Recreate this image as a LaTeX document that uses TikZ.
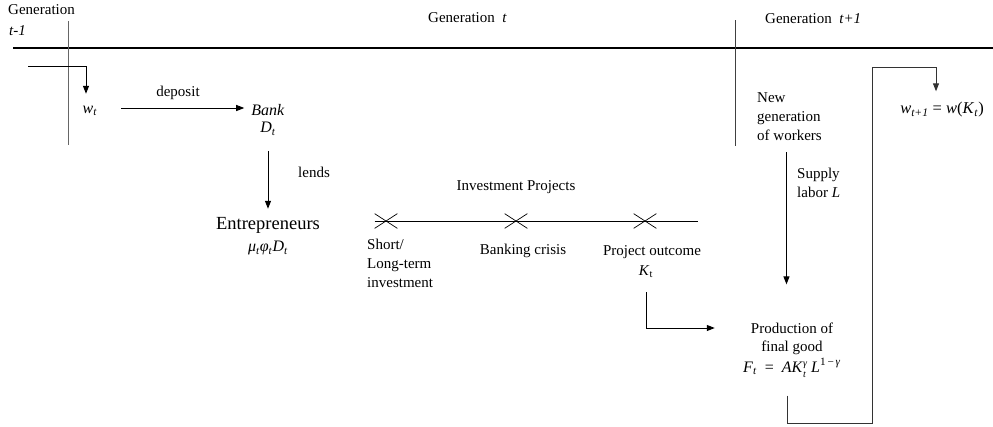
\documentclass[tikz,border=0pt]{standalone}
\usepackage{fontspec}
\setmainfont{Liberation Serif}
\usetikzlibrary{arrows.meta,shapes.misc}
\newcommand\isub[1]{\textsubscript{\textit{#1}}}
\newcommand\isup[1]{\textsuperscript{\textit{#1}}}
\begin{document}
\begin{tikzpicture}[x=1pt,y=-1pt,
  txt/.style={inner sep=0pt, font=\fontsize{15}{19}\selectfont},
  arr/.style={-{Triangle[length=8pt,width=6pt]}, line width=1pt},
  divider/.style={draw=black!60, line width=1pt},
  xmark/.style={cross out, draw, minimum width=22pt, minimum height=14pt, inner sep=0pt, line width=0.7pt}]
\useasboundingbox (0,0) rectangle (993,426);

% headers
\node[txt, anchor=west] (g0) at (8,10) {Generation};
\node[txt, anchor=west] (g0b) at (9,31) {\textit{t-1}};
\node[txt, anchor=west] (g1) at (428,18) {Generation\ \ \textit{t}};
\node[txt, anchor=west] (g2) at (765,19) {Generation\ \ \textit{t+1}};

% time axis and dividers
\draw[line width=2.2pt] (13,48) -- (993,48);
\draw[divider] (68,21) -- (68,145);
\draw[divider, draw=black!75] (735,20) -- (735,146);

% workers / bank / entrepreneurs
\node[txt, font=\fontsize{16}{19}\selectfont] (wt) at (90,111) {\textit{w}\isub{t}};
\coordinate (prev) at (28,66);
\draw[arr] (prev) -| ([xshift=-4pt,yshift=12pt]wt.north);

\node[txt, font=\fontsize{16}{19}\selectfont] (bank) at (268,110) {\textit{Bank}};
\node[txt, font=\fontsize{16}{19}\selectfont] (bankd) at (268,129) {\textit{D}\isub{t}};
\draw[arr] ([xshift=24pt,yshift=3pt]wt.east) -- ([xshift=-7pt,yshift=3pt]wt.east -| bank.west);
\node[txt] (dep) at (178,93) {deposit};

\node[txt, font=\fontsize{18.5}{22}\selectfont] (ent) at (268,225) {Entrepreneurs};
\node[txt, font=\fontsize{16}{19}\selectfont] (entm) at (268,248) {\textit{μ}\isub{t}\textit{φ}\isub{t}\textit{D}\isub{t}};
\draw[arr] ([yshift=-15pt]bankd.south) -- ([yshift=8pt]ent.north);
\node[txt, anchor=west] (lends) at (298,172) {lends};

% investment projects timeline
\node[txt] (inv) at (516,187) {Investment Projects};
\node[xmark] (c1) at (386,221) {};
\node[xmark] (c2) at (516,221) {};
\node[xmark] (c3) at (645,221) {};
\coordinate (tlend) at (698,221);
\draw[line width=0.8pt] (c1.west) -- (tlend);

\node[txt, anchor=north west, align=left] (short) at (367,239) {Short/\\Long-term\\investment};
\node[txt] (bc) at (523,251) {Banking crisis};
\node[txt] (po) at (652,252) {Project outcome};
\node[txt] (kt) at (646,272) {\textit{K}\textsubscript{t}};

% production
\node[txt] (prod1) at (792,328) {Production of};
\node[txt] (prod2) at (792,348) {final good};
\node[txt, font=\fontsize{16}{19}\selectfont] (prod3) at (792,368) {\textit{F}\isub{t}\ \ =\ \ \textit{AK}\raisebox{-0.32em}{\fontsize{10}{10.5}\selectfont\shortstack[l]{\textit{γ}\\\textit{t}}}\ \textit{L}\textsuperscript{1\,−\,\textit{γ}}};
\draw[arr] ([yshift=-14pt]kt.south) |- ([xshift=-36pt]prod1.west);

% new generation
\node[txt, anchor=north west, align=left] (ng) at (757,92) {New\\generation\\of workers};
\draw[arr] ([xshift=-3pt,yshift=-12pt]ng.south) -- ++(0,132);
\node[txt, anchor=north west, align=left] (sup) at (797,168) {Supply\\labor \textit{L}};

% wage feedback
\node[txt, font=\fontsize{16.5}{19}\selectfont] (wt1) at (942,110) {\textit{w}\isub{t+1}\ =\ \textit{w}(\textit{K}\isub{t})};
\draw[arr, draw=black!80] ([xshift=-5pt,yshift=-18pt]prod3.south) -- ++(0,28) -- ++(85,0) -- ++(0,-356) -| ([xshift=-6pt,yshift=11pt]wt1.north);
\end{tikzpicture}
\end{document}
